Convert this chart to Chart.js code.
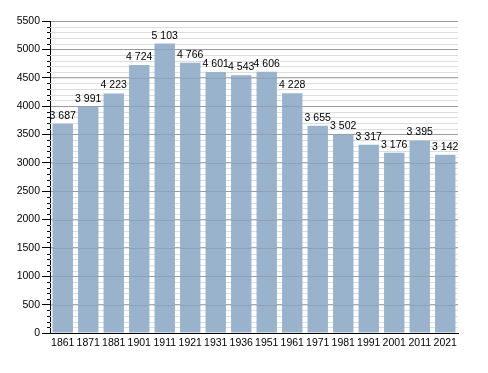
<!DOCTYPE html>
<html><head><meta charset="utf-8">
<script src="https://cdn.jsdelivr.net/npm/chart.js@4"></script>
<style>html,body{margin:0;padding:0;background:#fff}#wrap{width:488px;height:373px}</style>
</head><body><div id="wrap"><canvas id="c" width="488" height="373"></canvas></div>
<script>
const years = ["1861","1871","1881","1901","1911","1921","1931","1936","1951","1961","1971","1981","1991","2001","2011","2021"];
const population = [3687,3991,4223,4724,5103,4766,4601,4543,4606,4228,3655,3502,3317,3176,3395,3142];
const yMax = 5500;
const majorStep = 500;
const minorStep = 100;

const FONT = "'Liberation Sans', Arial, sans-serif";
const fmt = v => String(v).replace(/\B(?=(\d{3})+(?!\d))/g, " ");

const extras = {
  id: 'extras',
  beforeDatasetsDraw(chart) {
    const {ctx, chartArea: a, scales: {y}} = chart;
    ctx.save();
    ctx.lineWidth = 1;
    for (let v = minorStep; v < yMax; v += minorStep) {
      if (v % majorStep === 0) continue;
      const py = Math.round(y.getPixelForValue(v)) + 0.5;
      ctx.strokeStyle = '#dddddd';
      ctx.beginPath(); ctx.moveTo(a.left, py); ctx.lineTo(a.right, py); ctx.stroke();
      ctx.strokeStyle = '#000';
      ctx.beginPath(); ctx.moveTo(a.left - 3, py); ctx.lineTo(a.left, py); ctx.stroke();
    }
    ctx.restore();
  },
  afterDatasetsDraw(chart) {
    const {ctx, chartArea: a, scales: {y}} = chart;
    ctx.save();
    ctx.lineWidth = 1;
    ctx.strokeStyle = 'rgba(90,90,90,0.18)';
    for (let v = majorStep; v <= yMax; v += majorStep) {
      const py = Math.round(y.getPixelForValue(v)) + 0.5;
      ctx.beginPath(); ctx.moveTo(a.left, py); ctx.lineTo(a.right, py); ctx.stroke();
    }
    const meta = chart.getDatasetMeta(0);
    ctx.fillStyle = '#000';
    ctx.font = "10.5px " + FONT;
    ctx.textAlign = 'center';
    ctx.textBaseline = 'alphabetic';
    meta.data.forEach((bar, i) => {
      ctx.fillText(fmt(population[i]), bar.x, bar.y - 5);
    });
    ctx.restore();
  }
};

new Chart(document.getElementById('c'), {
  type: 'bar',
  data: {
    labels: years,
    datasets: [{
      data: population,
      backgroundColor: '#99b3cc',
      borderWidth: 0,
      barPercentage: 0.8,
      categoryPercentage: 1.0
    }]
  },
  options: {
    responsive: false,
    animation: false,
    devicePixelRatio: 1,
    layout: { padding: { left: 0, top: 21, right: 30, bottom: 0 } },
    plugins: { legend: { display: false }, tooltip: { enabled: false } },
    scales: {
      x: {
        grid: { display: false, drawTicks: false },
        border: { display: true, color: '#000', width: 1 },
        ticks: { color: '#000', font: { family: FONT, size: 10.5 }, padding: 4, maxRotation: 0, autoSkip: false },
        afterFit(s) { s.height = 40; }
      },
      y: {
        min: 0, max: yMax,
        grid: { color: '#aaaaaa', tickColor: '#000', tickLength: 8, lineWidth: 1 },
        border: { display: true, color: '#000', width: 1 },
        ticks: { stepSize: majorStep, color: '#000', font: { family: FONT, size: 10.5 }, padding: 2,
                 callback: v => String(v) },
        afterFit(s) { s.width = 50; }
      }
    }
  },
  plugins: [extras]
});
</script>
</body></html>
